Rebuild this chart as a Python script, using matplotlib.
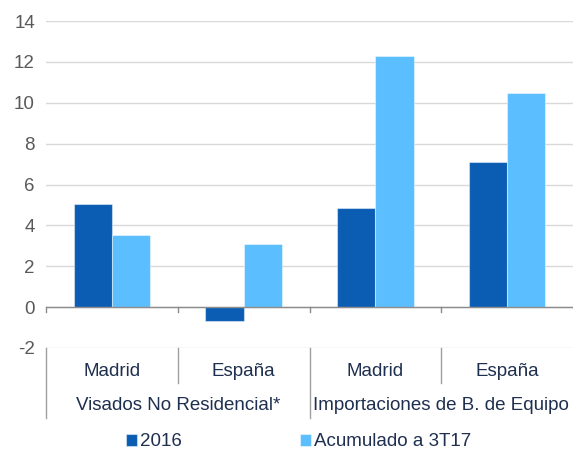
import matplotlib
matplotlib.use("Agg")
import matplotlib.pyplot as plt
import numpy as np

plt.rcParams['font.family'] = ['Liberation Sans', 'DejaVu Sans']

categories = ["Madrid", "España", "Madrid", "España"]
groups = ["Visados No Residencial*", "Importaciones de B. de Equipo"]
series_names = ["2016", "Acumulado a 3T17"]
values_2016 = [5.05, -0.7, 4.83, 7.08]
values_3t17 = [3.52, 3.08, 12.27, 10.5]
yticks = [-2, 0, 2, 4, 6, 8, 10, 12, 14]

dark = '#0B5DB4'
light = '#5BBEFF'
navy = '#1F2F4F'
grid_c = '#D9D9D9'
axis_c = '#8C8C8C'
FS = 13.5

W, H = 573, 455
fig = plt.figure(figsize=(W / 100, H / 100), dpi=100)
left, right, top, bottom = 46, 573, 21, 348
ax = fig.add_axes([left / W, 1 - bottom / H, (right - left) / W, (bottom - top) / H])

x = np.arange(len(categories))
bw = 0.29
b1 = ax.bar(x - bw / 2, values_2016, bw, color=dark, edgecolor=(1, 1, 1, 0.45), linewidth=0.8, zorder=3, label=series_names[0])
b2 = ax.bar(x + bw / 2, values_3t17, bw, color=light, edgecolor=(1, 1, 1, 0.45), linewidth=0.8, zorder=3, label=series_names[1])

ax.set_xlim(-0.5, len(categories) - 0.5)
ax.set_ylim(-2, 14)
ax.set_yticks(yticks)
ax.set_yticklabels([str(t) for t in yticks])
ax.tick_params(axis='y', length=0, pad=8, labelsize=FS, labelcolor='#595959')
ax.set_xticks([])
for s in ax.spines.values():
    s.set_visible(False)
ax.yaxis.grid(True, color=grid_c, linewidth=1, zorder=0)
ax.set_axisbelow(True)

# zero axis line with tick marks
ax.axhline(0, color=axis_c, linewidth=1, zorder=4)
unit_px = (bottom - top) / 16.0
tick_len = 5 / unit_px
for b in np.arange(-0.5, len(categories) - 0.4, 1.0):
    if b < len(categories) - 0.5:
        ax.plot([b, b], [0, -tick_len], color=axis_c, linewidth=1, clip_on=False, zorder=4)

# category table below plot
tr = ax.get_xaxis_transform()
ah = bottom - top
def fy(py):
    return (bottom - py) / ah

row1_bot = fy(383)
row2_bot = fy(418)
for i in range(len(categories)):
    b = i - 0.5
    yb = row2_bot if i % 2 == 0 else row1_bot
    ax.plot([b, b], [0, yb], transform=tr, color='#A0A0A0', linewidth=1, clip_on=False)
    ax.text(i, fy(371), categories[i], transform=tr, ha='center', va='center', fontsize=FS, color=navy)
for g, name in enumerate(groups):
    ax.text(2 * g + 0.5, fy(406), name, transform=tr, ha='center', va='center', fontsize=FS, color=navy)

leg = fig.legend(handles=[b1, b2], labels=series_names, loc='center left',
                 bbox_to_anchor=(126 / W, 1 - 442 / H), ncol=2, frameon=False,
                 fontsize=FS, handlelength=0.6, handleheight=0.6, handletextpad=0.15,
                 columnspacing=6.3, borderpad=0, borderaxespad=0)
for t in leg.get_texts():
    t.set_color(navy)

fig.savefig('out.png', dpi=100)
